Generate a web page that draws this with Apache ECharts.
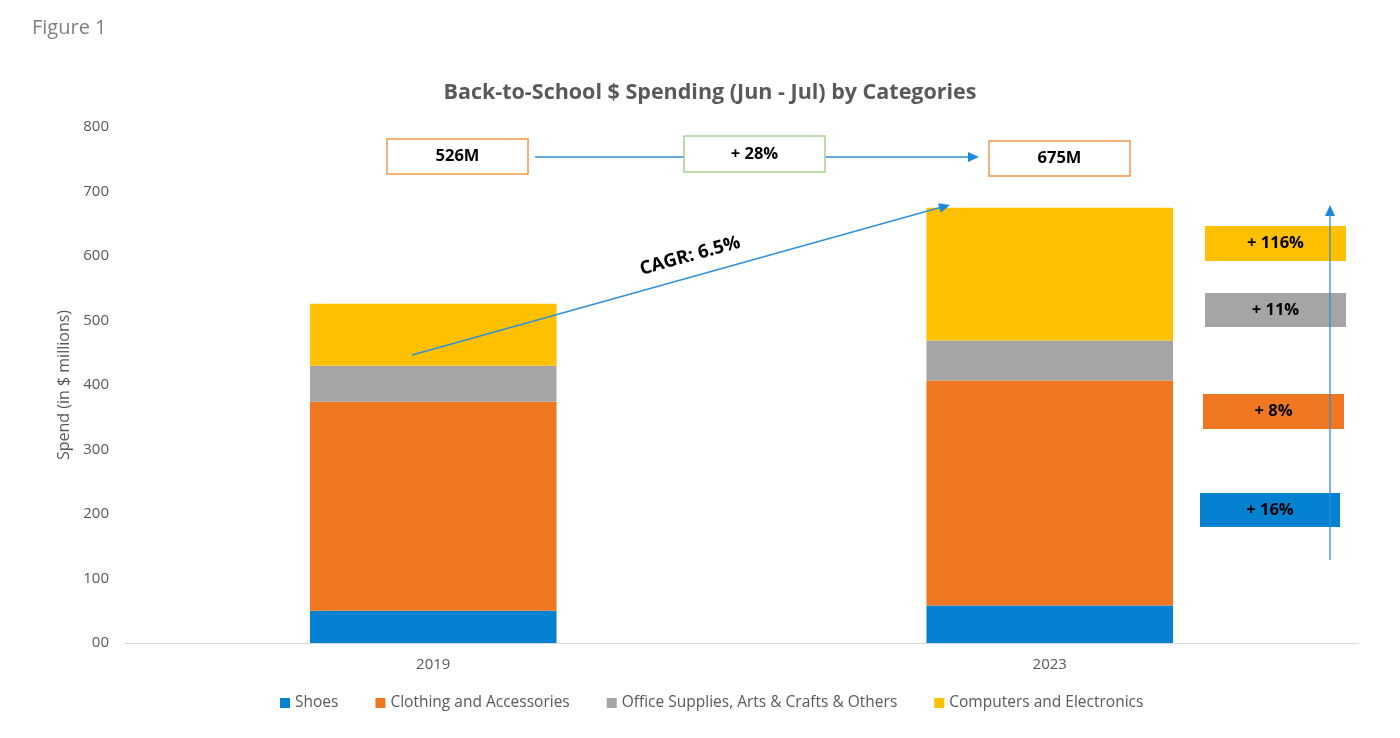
<!DOCTYPE html>
<html><head><meta charset="utf-8">
<script src="https://cdn.jsdelivr.net/npm/echarts@6/dist/echarts.min.js"></script>
<style>html,body{margin:0;padding:0;background:#fff}#c{width:1400px;height:738px}</style>
</head><body><div id="c"></div>
<script>
const categories = ['2019', '2023'];
const seriesNames = ['Shoes', 'Clothing and Accessories', 'Office Supplies, Arts & Crafts & Others', 'Computers and Electronics'];
const shoes = [50, 58];
const clothing = [324, 349];
const office = [56, 62];
const computers = [96, 206];
const totals = ['526M', '675M'];
const totalGrowth = '+ 28%';
const cagrLabel = 'CAGR: 6.5%';
const growthLabels = ['+ 16%', '+ 8%', '+ 11%', '+ 116%'];
const colors = ['#0481D1', '#F07722', '#A5A5A5', '#FFC000'];
const yTicks = [0, 100, 200, 300, 400, 500, 600, 700, 800];

const FONT = '"Open Sans", "Noto Sans", sans-serif';
const chart = echarts.init(document.getElementById('c'), null, {renderer: 'canvas'});
const values = [shoes, clothing, office, computers];
const option = {
  animation: false,
  color: colors,
  textStyle: {fontFamily: FONT},
  title: {
    text: 'Back-to-School $ Spending (Jun - Jul) by Categories',
    left: 705, top: 77, textAlign: 'center',
    textStyle: {fontSize: 21.5, fontWeight: 'bold', color: '#595959', fontFamily: FONT}
  },
  legend: {
    bottom: 22, left: 275, itemWidth: 10, itemHeight: 10, itemGap: 37,
    icon: 'rect',
    textStyle: {fontSize: 15.5, color: '#595959', fontFamily: FONT},
    data: seriesNames
  },
  grid: {left: 125, right: 42, top: 127, bottom: 95},
  xAxis: {
    type: 'category', data: categories,
    axisLine: {lineStyle: {color: '#D9D9D9'}},
    axisTick: {show: false},
    axisLabel: {fontSize: 15, color: '#595959', margin: 14}
  },
  yAxis: {
    type: 'value', min: yTicks[0], max: yTicks[yTicks.length - 1], interval: 100,
    name: 'Spend (in $ millions)', nameLocation: 'middle', nameGap: 46,
    nameTextStyle: {fontSize: 16, color: '#595959'},
    splitLine: {show: false},
    axisLine: {show: false}, axisTick: {show: false},
    axisLabel: {fontSize: 15, color: '#595959', margin: 16,
      formatter: v => v === 0 ? '00' : String(v)}
  },
  series: seriesNames.map((n, i) => ({
    name: n, type: 'bar', stack: 'total', barWidth: '40%',
    data: values[i], itemStyle: {color: colors[i]}
  }))
};
chart.setOption(option);

function box(x, y, w, h, fill, stroke, text) {
  return [
    {type: 'rect', z: 100, shape: {x: x, y: y, width: w, height: h},
      style: {fill: fill, stroke: stroke || null, lineWidth: stroke ? 1.5 : 0}},
    {type: 'text', z: 101, x: x + w / 2, y: y + h / 2,
      style: {text: text, fontSize: 16.5, fontWeight: 'bold', fill: '#000', fontFamily: FONT,
        align: 'center', verticalAlign: 'middle'}}
  ];
}
function arrowHead(x, y, angle) {
  const L = 11, W = 5;
  const c = Math.cos(angle), s = Math.sin(angle);
  const p1 = [x, y];
  const p2 = [x - L * c + W * s, y - L * s - W * c];
  const p3 = [x - L * c - W * s, y - L * s + W * c];
  return {type: 'polygon', z: 103, shape: {points: [p1, p2, p3]}, style: {fill: '#1E88D8'}};
}
const blue = '#2E8FDA';
const graphics = [].concat(
  [{type: 'text', z: 100, x: 32, y: 18, style: {text: 'Figure 1', fontSize: 20, fill: '#7F7F7F', fontFamily: FONT}}],
  box(387, 139, 141, 35, '#fff', '#F79646', totals[0]),
  box(989, 141, 141, 35, '#fff', '#F79646', totals[1]),
  [{type: 'line', z: 100, shape: {x1: 535, y1: 157, x2: 684, y2: 157}, style: {stroke: blue, lineWidth: 1.3}},
   {type: 'line', z: 100, shape: {x1: 825, y1: 157, x2: 970, y2: 157}, style: {stroke: blue, lineWidth: 1.3}},
   arrowHead(979, 157, 0)],
  box(684, 136, 141, 36, '#fff', '#A9D18E', totalGrowth),
  [{type: 'line', z: 100, shape: {x1: 412, y1: 355, x2: 942, y2: 207}, style: {stroke: blue, lineWidth: 1.3}},
   arrowHead(950, 205, Math.atan2(-150, 538)),
   {type: 'text', z: 101, x: 690, y: 256, rotation: Math.atan2(150, 538),
    style: {text: cagrLabel, fontSize: 18.5, fontWeight: 'bold', fill: '#000', fontFamily: FONT, align: 'center', verticalAlign: 'middle'}}],
  box(1205, 226, 141, 35, colors[3], null, growthLabels[3]),
  box(1205, 293, 141, 34, colors[2], null, growthLabels[2]),
  box(1203, 394, 141, 35, colors[1], null, growthLabels[1]),
  box(1200, 493, 140, 34, colors[0], null, growthLabels[0]),
  [{type: 'line', z: 102, shape: {x1: 1330, y1: 560, x2: 1330, y2: 214}, style: {stroke: blue, lineWidth: 1.3}},
   arrowHead(1330, 205, -Math.PI / 2)]
);
chart.setOption({graphic: {elements: graphics}});
</script></body></html>
